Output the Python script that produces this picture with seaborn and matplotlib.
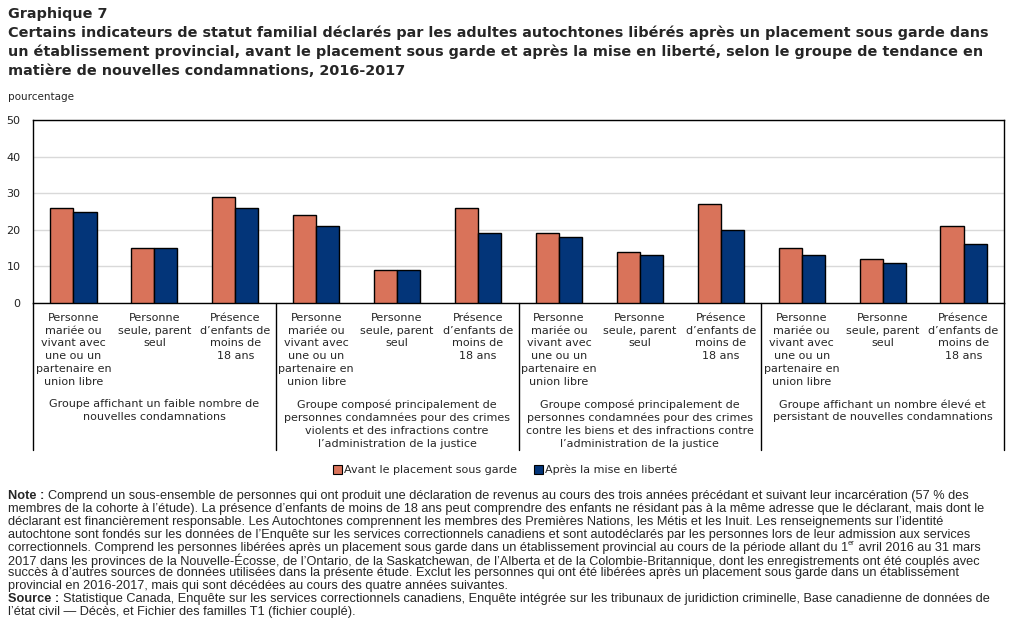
import numpy as np
import pandas as pd
import matplotlib
matplotlib.use('Agg')
import matplotlib.pyplot as plt
import seaborn as sns
from matplotlib.patches import Patch

# data
groups = [
    "Groupe affichant un faible nombre de\nnouvelles condamnations",
    "Groupe composé principalement de\npersonnes condamnées pour des crimes\nviolents et des infractions contre\nl\u2019administration de la justice",
    "Groupe composé principalement de\npersonnes condamnées pour des crimes\ncontre les biens et des infractions contre\nl\u2019administration de la justice",
    "Groupe affichant un nombre élevé et\npersistant de nouvelles condamnations",
]
indicators = [
    "Personne\nmariée ou\nvivant avec\nune ou un\npartenaire en\nunion libre",
    "Personne\nseule, parent\nseul",
    "Présence\nd\u2019enfants de\nmoins de\n18 ans",
]
series = ["Avant le placement sous garde", "Après la mise en liberté"]
avant = [26, 15, 29, 24, 9, 26, 19, 14, 27, 15, 12, 21]
apres = [25, 15, 26, 21, 9, 19, 18, 13, 20, 13, 11, 16]
colors = {"Avant le placement sous garde": "#D9735A",
          "Après la mise en liberté": "#033579"}

rows = []
for i in range(len(avant)):
    key = f"{i // 3}-{i % 3}"
    rows.append({"cat": key, "serie": series[0], "val": avant[i]})
    rows.append({"cat": key, "serie": series[1], "val": apres[i]})
df = pd.DataFrame(rows)
order = [f"{i // 3}-{i % 3}" for i in range(len(avant))]

sns.set_style("white")
plt.rcParams['font.family'] = ['DejaVu Sans']

fig = plt.figure(figsize=(10.11, 6.24), dpi=100)
ax = fig.add_axes([33 / 1011, 1 - 303 / 624, (1004 - 33) / 1011, 183 / 624])

sns.barplot(data=df, x="cat", y="val", hue="serie", order=order,
            hue_order=series, palette=colors, width=0.57, saturation=1,
            edgecolor="black", linewidth=1, ax=ax, legend=False, zorder=3)

ax.set_xlim(-0.5, 11.5)
ax.set_ylim(0, 50)
ax.set_yticks(range(0, 51, 10))
ax.yaxis.grid(True, color="#d9d9d9", lw=1, zorder=0)
ax.set_axisbelow(True)
for s in ax.spines.values():
    s.set_color("black")
    s.set_linewidth(1)
ax.tick_params(axis="y", length=0, pad=9, labelsize=8, colors="#222222")
ax.set_xticks(range(12))
ax.set_xticklabels(indicators * 4, fontsize=8, linespacing=1.36)
ax.tick_params(axis="x", length=0, pad=7)
ax.set_xlabel("")
ax.set_ylabel("")

trans = ax.get_xaxis_transform()
for x in [-0.5, 2.5, 5.5, 8.5, 11.5]:
    ax.plot([x, x], [0, -0.803], transform=trans, color="black", lw=1,
            clip_on=False)
for g, label in enumerate(groups):
    ax.text(g * 3 + 1, -0.525, label, transform=trans, ha="center", va="top",
            fontsize=8, linespacing=1.36)

handles = [Patch(facecolor=colors[s], edgecolor="black", lw=0.8) for s in series]
fig.legend(handles, series, loc="center", bbox_to_anchor=(505 / 1011, 1 - 470 / 624),
           ncol=2, frameon=False, fontsize=8, handlelength=0.8, handleheight=0.8,
           handletextpad=0.2, columnspacing=1.5)

fig.text(8 / 1011, 1 - 97 / 624, "pourcentage", fontsize=7.5, va="center")

title = ("Graphique 7\n"
         "Certains indicateurs de statut familial déclarés par les adultes autochtones libérés après un placement sous garde dans\n"
         "un établissement provincial, avant le placement sous garde et après la mise en liberté, selon le groupe de tendance en\n"
         "matière de nouvelles condamnations, 2016-2017")
fig.text(8 / 1011, 1 - 7 / 624, title, fontsize=10.4, fontweight="bold", va="top",
         linespacing=1.4)

note_lines = [
    "Comprend un sous-ensemble de personnes qui ont produit une déclaration de revenus au cours des trois années précédant et suivant leur incarcération (57 % des",
    "membres de la cohorte à l\u2019étude). La présence d\u2019enfants de moins de 18 ans peut comprendre des enfants ne résidant pas à la même adresse que le déclarant, mais dont le",
    "déclarant est financièrement responsable. Les Autochtones comprennent les membres des Premières Nations, les Métis et les Inuit. Les renseignements sur l\u2019identité",
    "autochtone sont fondés sur les données de l\u2019Enquête sur les services correctionnels canadiens et sont autodéclarés par les personnes lors de leur admission aux services",
    "correctionnels. Comprend les personnes libérées après un placement sous garde dans un établissement provincial au cours de la période allant du 1|er| avril 2016 au 31 mars",
    "2017 dans les provinces de la Nouvelle-Écosse, de l\u2019Ontario, de la Saskatchewan, de l\u2019Alberta et de la Colombie-Britannique, dont les enregistrements ont été couplés avec",
    "succès à d\u2019autres sources de données utilisées dans la présente étude. Exclut les personnes qui ont été libérées après un placement sous garde dans un établissement",
    "provincial en 2016-2017, mais qui sont décédées au cours des quatre années suivantes.",
]
source_lines = [
    "Statistique Canada, Enquête sur les services correctionnels canadiens, Enquête intégrée sur les tribunaux de juridiction criminelle, Base canadienne de données de",
    "l\u2019état civil \u2014 Décès, et Fichier des familles T1 (fichier couplé).",
]

note_fs = 9.2
note_font = "Liberation Sans"
renderer = fig.canvas.get_renderer()
inv = fig.transFigure.inverted()


def right_edge(t):
    bb = t.get_window_extent(renderer)
    return inv.transform((bb.x1, bb.y0))[0]


def put_line(x, ypx, text, bold=False):
    # text parts separated by | alternate normal / superscript
    parts = text.split("|")
    y = 1 - ypx / 624
    for k, part in enumerate(parts):
        if k % 2 == 1:
            t = fig.text(x, y + 4 / 624, part, fontsize=note_fs * 0.6, va="center",
                         family=note_font)
        else:
            t = fig.text(x, y, part, fontsize=note_fs, va="center", family=note_font,
                         fontweight="bold" if bold else "normal")
        x = right_edge(t)
    return x


x0 = 8 / 1011
line_h = 12.9
start = put_line(x0, 496, "Note :", bold=True) + 4 / 1011
for j, line in enumerate(note_lines):
    put_line(start if j == 0 else x0, 496 + j * line_h, line)
ys = 496 + len(note_lines) * line_h
start = put_line(x0, ys, "Source :", bold=True) + 4 / 1011
for j, line in enumerate(source_lines):
    put_line(start if j == 0 else x0, ys + j * line_h, line)

fig.savefig("out.png", dpi=100)
